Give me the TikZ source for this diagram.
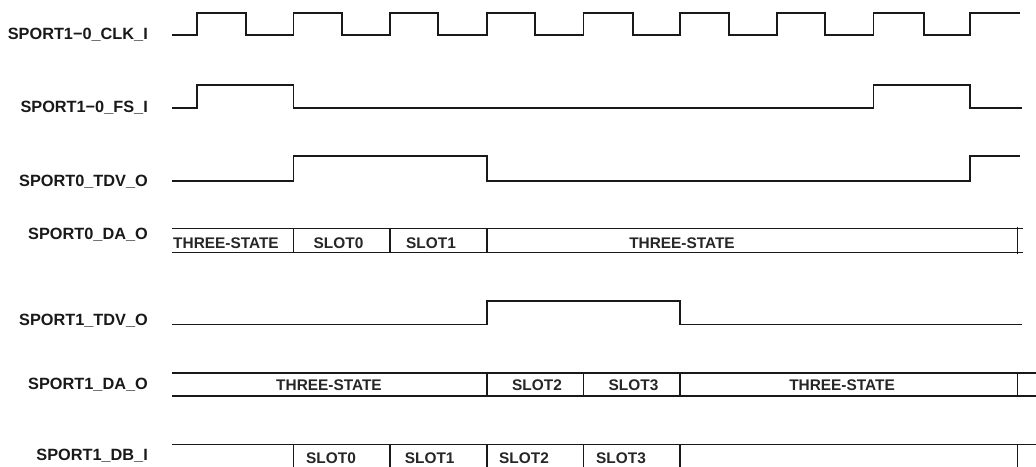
\documentclass[tikz,border=0pt]{standalone}
\usepackage{fontspec}
\setmainfont{Liberation Sans}
\begin{document}
\begin{tikzpicture}[x=1pt,y=-1pt,
  wave/.style={line width=1.6pt,line join=miter,line cap=butt,black!90},
  siglabel/.style={anchor=base east,inner sep=0pt,font=\fontsize{16.3}{18}\selectfont\bfseries,text=black!90},
  bustext/.style={anchor=base,inner sep=0pt,font=\fontsize{15.4}{17}\selectfont\bfseries,text=black!85}]
\useasboundingbox (0,0) rectangle (1036,466);
\fill[white] (0,0) rectangle (1036,466);
% labels
\node[siglabel] (lclk) at (148,39.3) {SPORT1−0\_CLK\_I};
\node[siglabel] (lfs)  at (148,112.7) {SPORT1−0\_FS\_I};
\node[siglabel] (ltdv0) at (148,186.7) {SPORT0\_TDV\_O};
\node[siglabel] (lda0) at (148,239.3) {SPORT0\_DA\_O};
\node[siglabel] (ltdv1) at (148,325) {SPORT1\_TDV\_O};
\node[siglabel] (lda1) at (148,389) {SPORT1\_DA\_O};
\node[siglabel] (ldb1) at (148,460) {SPORT1\_DB\_I};
% clock
\def\ch{12.7}\def\cl{35}
\draw[wave] (172,\cl) -- (197,\cl) -- (197,\ch) -- (246,\ch) -- (246,\cl)
  -- (293.5,\cl) -- (293.5,\ch) -- (342,\ch) -- (342,\cl)
  -- (390,\cl) -- (390,\ch) -- (438,\ch) -- (438,\cl)
  -- (487,\cl) -- (487,\ch) -- (535,\ch) -- (535,\cl)
  -- (583.5,\cl) -- (583.5,\ch) -- (633,\ch) -- (633,\cl)
  -- (680,\cl) -- (680,\ch) -- (729,\ch) -- (729,\cl)
  -- (777,\cl) -- (777,\ch) -- (825,\ch) -- (825,\cl)
  -- (873.5,\cl) -- (873.5,\ch) -- (924,\ch) -- (924,\cl)
  -- (970,\cl) -- (970,\ch) -- (1019.5,\ch);
% frame sync
\draw[wave] (172,107.7) -- (197,107.7) -- (197,85) -- (293.5,85) -- (293.5,107.7)
  -- (873.5,107.7) -- (873.5,85) -- (970,85) -- (970,107.7) -- (1021.5,107.7);
% SPORT0 TDV
\draw[wave] (172,181) -- (293.5,181) -- (293.5,156) -- (487,156) -- (487,181)
  -- (970,181) -- (970,156) -- (1019.5,156);
% SPORT0 DA bus
\draw[wave] (172,228.3) -- (1022.5,228.3);
\draw[wave] (172,252.3) -- (1022.5,252.3);
\foreach \x in {293.5,390,487}{\draw[wave] (\x,228.3) -- (\x,252.3);}
\draw[wave] (1017.3,226.8) -- (1017.3,253.8);
\node[bustext] (a0) at (226,248.3) {THREE-STATE};
\node[bustext] (a1) at (338.5,248.3) {SLOT0};
\node[bustext] (a2) at (431,248.3) {SLOT1};
\node[bustext] (a3) at (682,248.3) {THREE-STATE};
% SPORT1 TDV
\draw[wave] (172,324.3) -- (487,324.3) -- (487,300.7) -- (680,300.7) -- (680,324.3) -- (1021.5,324.3);
% SPORT1 DA bus
\draw[wave] (172,372.7) -- (1040,372.7);
\draw[wave] (172,396) -- (1040,396);
\foreach \x in {487,583.5,680,1017.3}{\draw[wave] (\x,372.7) -- (\x,396);}
\node[bustext] (b0) at (329,390.7) {THREE-STATE};
\node[bustext] (b1) at (537,390.7) {SLOT2};
\node[bustext] (b2) at (633.5,390.7) {SLOT3};
\node[bustext] (b3) at (842,390.7) {THREE-STATE};
% SPORT1 DB bus
\draw[wave] (172,444.3) -- (1040,444.3);
\draw[wave] (172,468.5) -- (1040,468.5);
\foreach \x in {293.5,390,487,583.5,680,1017.3}{\draw[wave] (\x,444.3) -- (\x,470);}
\node[bustext] (c0) at (331,463.3) {SLOT0};
\node[bustext] (c1) at (429.7,463.3) {SLOT1};
\node[bustext] (c2) at (524,463.3) {SLOT2};
\node[bustext] (c3) at (621,463.3) {SLOT3};
\end{tikzpicture}
\end{document}
